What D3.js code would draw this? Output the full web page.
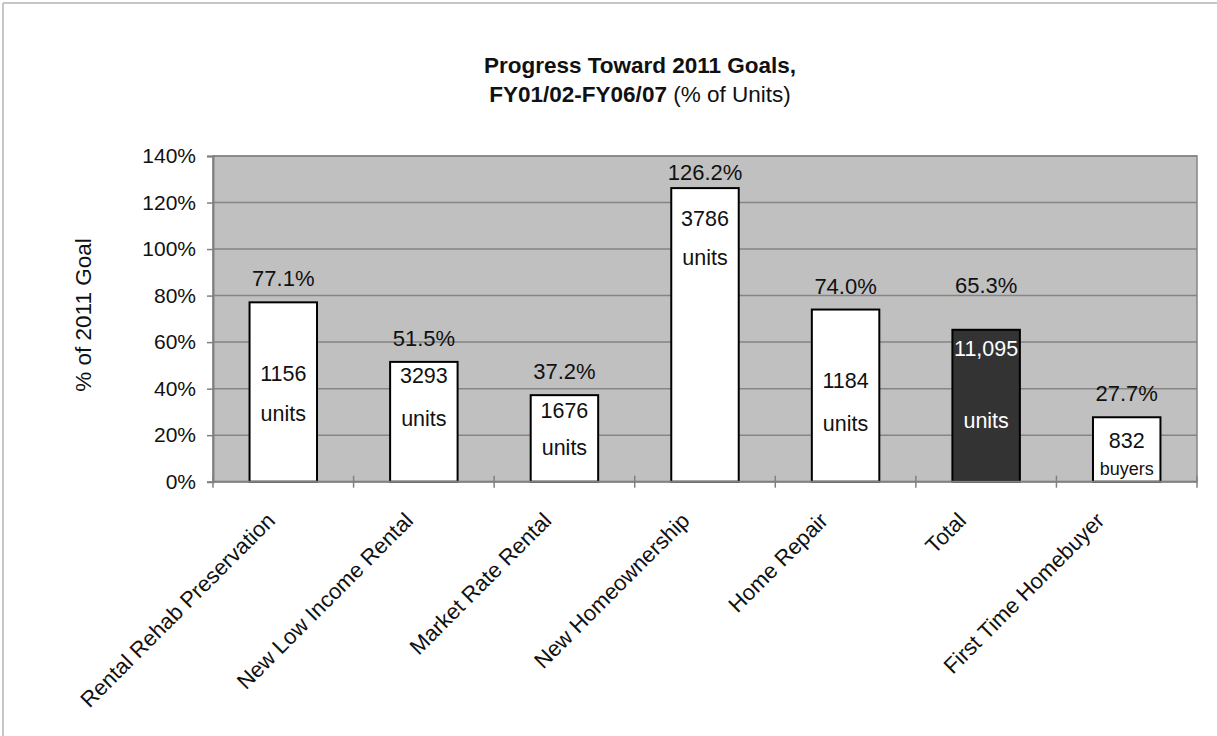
<!DOCTYPE html>
<html>
<head>
<meta charset="utf-8">
<script src="https://cdn.jsdelivr.net/npm/d3@7"></script>
<style>
  html, body { margin: 0; padding: 0; background: #fff; }
  svg { display: block; font-family: "Liberation Sans", Arial, sans-serif; }
</style>
</head>
<body>
<svg id="chart" width="1217" height="736"></svg>
<script>
// Housing production progress toward 2011 goals
const categories = [
  "Rental Rehab Preservation",
  "New Low Income Rental",
  "Market Rate Rental",
  "New Homeownership",
  "Home Repair",
  "Total",
  "First Time Homebuyer"
];
const pctOfGoal = [77.1, 51.5, 37.2, 126.2, 74.0, 65.3, 27.7];
const counts = ["1156", "3293", "1676", "3786", "1184", "11,095", "832"];
const countUnits = ["units", "units", "units", "units", "units", "units", "buyers"];
const yTicks = [0, 20, 40, 60, 80, 100, 120, 140];

// Placement of the in-bar text (expressed on the % of goal scale)
const countLabelLevel = [43.3, 42.3, 27.3, 110.0, 40.2, 54.1, 14.6];
const unitLabelLevel = [26.2, 24.0, 11.5, 93.2, 21.8, 23.0, 2.9];
// Gap in px between bar top and its percentage label
const valueLabelGap = [16, 16, 16, 8, 16, 37, 16];

const svg = d3.select("#chart");
const plot = { left: 213, right: 1197, top: 156, bottom: 481.7 };

const x = d3.scaleBand()
  .domain(categories)
  .range([plot.left, plot.right])
  .paddingInner(0.52)
  .paddingOuter(0.26);

const y = d3.scaleLinear()
  .domain([0, 140])
  .range([plot.bottom, plot.top]);

const cx = d => x(d) + x.bandwidth() / 2;

// Anchor points for the rotated category labels
const labelX = d3.scalePoint()
  .domain(categories)
  .range([cx(categories[0]) - 7, cx(categories[categories.length - 1]) - 21]);

// Outer frame (top and left edges)
svg.append("line").attr("x1", 3).attr("x2", 1217).attr("y1", 3).attr("y2", 3)
  .attr("stroke", "#c6c6c6").attr("stroke-width", 2);
svg.append("line").attr("x1", 3).attr("x2", 3).attr("y1", 3).attr("y2", 736)
  .attr("stroke", "#c6c6c6").attr("stroke-width", 2);

// Title
const title = svg.append("text")
  .attr("x", 640).attr("text-anchor", "middle")
  .attr("font-size", 22.5).attr("fill", "#111");
title.append("tspan").attr("x", 640).attr("y", 73)
  .attr("font-weight", "bold").text("Progress Toward 2011 Goals,");
const t2 = title.append("tspan").attr("x", 640).attr("y", 101.5);
t2.append("tspan").attr("font-weight", "bold").text("FY01/02-FY06/07");
t2.append("tspan").text(" (% of Units)");

// Plot area
svg.append("rect")
  .attr("x", plot.left).attr("y", plot.top)
  .attr("width", plot.right - plot.left).attr("height", plot.bottom - plot.top)
  .attr("fill", "#c0c0c0").attr("stroke", "#858585").attr("stroke-width", 1.5);

// Horizontal gridlines
svg.append("g").selectAll("line")
  .data(yTicks.filter(d => d > 0))
  .join("line")
  .attr("x1", plot.left).attr("x2", plot.right)
  .attr("y1", d => y(d)).attr("y2", d => y(d))
  .attr("stroke", "#858585").attr("stroke-width", 1.5);

// Y axis
const yAxis = svg.append("g")
  .attr("transform", `translate(${plot.left},0)`)
  .call(d3.axisLeft(y).tickValues(yTicks).tickFormat(d => d + "%").tickSize(6).tickPadding(11));
yAxis.select(".domain").attr("stroke", "#808080").attr("stroke-width", 2);
yAxis.selectAll(".tick line").attr("stroke", "#808080").attr("stroke-width", 1.5);
yAxis.selectAll(".tick text")
  .attr("font-size", 21).attr("fill", "#111")
  .attr("font-family", "Liberation Sans, Arial, sans-serif");

// Y axis title
svg.append("text")
  .attr("transform", "translate(91,315) rotate(-90)")
  .attr("text-anchor", "middle")
  .attr("font-size", 22.5).attr("fill", "#111")
  .text("% of 2011 Goal");

// Bars
svg.append("g").selectAll("rect")
  .data(categories)
  .join("rect")
  .attr("x", d => x(d))
  .attr("y", (d, i) => y(pctOfGoal[i]))
  .attr("width", x.bandwidth())
  .attr("height", (d, i) => y(0) - y(pctOfGoal[i]))
  .attr("fill", d => d === "Total" ? "#333333" : "#ffffff")
  .attr("stroke", "#000").attr("stroke-width", 2);

// X axis line and category-boundary ticks
svg.append("line")
  .attr("x1", plot.left).attr("x2", plot.right)
  .attr("y1", y(0)).attr("y2", y(0))
  .attr("stroke", "#808080").attr("stroke-width", 2);
svg.append("g").selectAll("line")
  .data(d3.range(categories.length + 1))
  .join("line")
  .attr("x1", i => plot.left + i * x.step())
  .attr("x2", i => plot.left + i * x.step())
  .attr("y1", y(0) - 6).attr("y2", y(0) + 6)
  .attr("stroke", "#808080").attr("stroke-width", 1.5);

// Category labels, rotated
svg.append("g").selectAll("text")
  .data(categories)
  .join("text")
  .attr("transform", d => `translate(${labelX(d)},522) rotate(-45)`)
  .attr("text-anchor", "end")
  .attr("font-size", 22).attr("fill", "#111")
  .text(d => d);

// Percentage labels above bars
svg.append("g").selectAll("text")
  .data(categories)
  .join("text")
  .attr("x", cx)
  .attr("y", (d, i) => y(pctOfGoal[i]) - valueLabelGap[i])
  .attr("text-anchor", "middle")
  .attr("font-size", 22).attr("fill", "#111")
  .text((d, i) => pctOfGoal[i].toFixed(1) + "%");

// Counts inside bars
svg.append("g").selectAll("text")
  .data(categories)
  .join("text")
  .attr("x", cx)
  .attr("y", (d, i) => y(countLabelLevel[i]))
  .attr("text-anchor", "middle")
  .attr("font-size", 21.5)
  .attr("fill", d => d === "Total" ? "#fff" : "#111")
  .text((d, i) => counts[i]);

svg.append("g").selectAll("text")
  .data(categories)
  .join("text")
  .attr("x", cx)
  .attr("y", (d, i) => y(unitLabelLevel[i]))
  .attr("text-anchor", "middle")
  .attr("font-size", (d, i) => countUnits[i] === "buyers" ? 18 : 21.5)
  .attr("fill", d => d === "Total" ? "#fff" : "#111")
  .text((d, i) => countUnits[i]);
</script>
</body>
</html>
